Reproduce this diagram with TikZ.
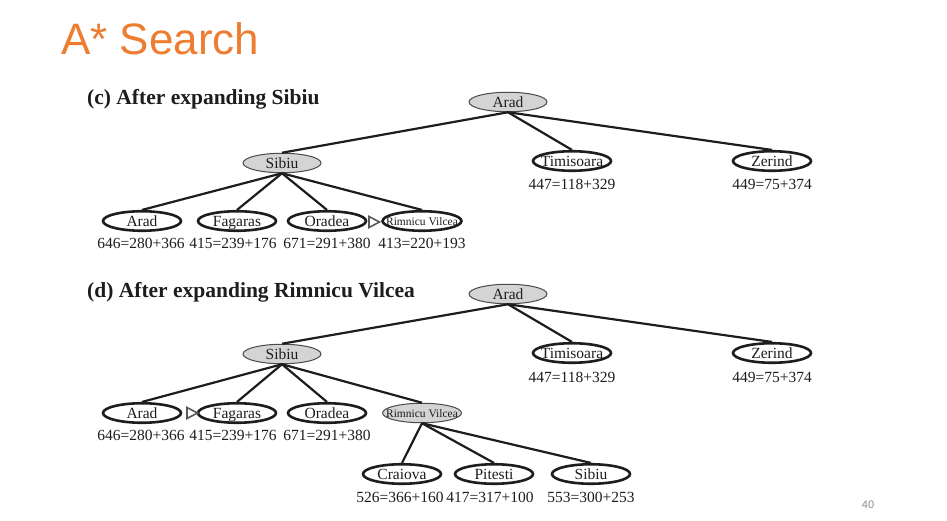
\documentclass[tikz,border=0pt]{standalone}
\usepackage{fontspec}
\setmainfont{Liberation Serif}
\newfontfamily\titlefont{Liberation Sans}
\usetikzlibrary{shapes.geometric}
\definecolor{ttl}{RGB}{237,125,49}
\definecolor{gfill}{RGB}{212,212,212}
\definecolor{ink}{RGB}{30,28,30}
\tikzset{
  nd/.style={ellipse, minimum width=78pt, minimum height=19.5pt, inner xsep=-5pt, inner ysep=-2pt, text height=11pt, text depth=0pt, text=ink, font=\fontsize{15.5}{16}\selectfont},
  open/.style={nd, draw=ink, line width=2.6pt, fill=white},
  done/.style={nd, draw=ink!80, line width=1pt, fill=gfill},
  small/.style={font=\fontsize{11.5}{12}\selectfont, inner xsep=-8pt, text height=8.6pt},
  lbl/.style={text=ink, font=\fontsize{15.5}{16}\selectfont, inner sep=0pt},
  edge/.style={draw=ink, line width=2.2pt},
  head/.style={anchor=base west, inner sep=0pt, text=ink, font=\bfseries\fontsize{21.5}{22}\selectfont},
  tri/.style={draw=black!65, line width=1.6pt, fill=white, line join=miter}
}
\begin{document}
\begin{tikzpicture}[x=1pt,y=-1pt]
\useasboundingbox (0,0) rectangle (947,521);
\node[anchor=base west, inner sep=0pt, text=ttl, font=\titlefont\fontsize{44}{45}\selectfont] (title) at (61,55) {A* Search};
\node[anchor=center, inner sep=0pt, text=black!45, font=\titlefont\fontsize{11}{12}\selectfont] (pg) at (868,505) {40};

% ---------- panel (c)
\node[head] (hc) at (87,105) {(c) After expanding Sibiu};
\node[done] (cA) at (508,102) {Arad};
\node[done] (cS) at (282,163) {Sibiu};
\node[open] (cT) at (572,161) {Timisoara};
\node[open] (cZ) at (772,161) {Zerind};
\node[open] (cA2) at (142,221) {Arad};
\node[open] (cF) at (237,221) {Fagaras};
\node[open] (cO) at (327,221) {Oradea};
\node[open, small] (cR) at (422,221) {Rimnicu Vilcea};
\draw[edge] (cA.south) -- (cS.north);
\draw[edge] (cA.south) -- (cT.north);
\draw[edge] (cA.south) -- (cZ.north);
\draw[edge] (cS.south) -- (cA2.north);
\draw[edge] (cS.south) -- (cF.north);
\draw[edge] (cS.south) -- (cO.north);
\draw[edge] (cS.south) -- (cR.north);
\node[lbl] (lcT) at (572,184) {447=118+329};
\node[lbl] (lcZ) at (772,184) {449=75+374};
\node[lbl] (lcA2) at (141,243) {646=280+366};
\node[lbl] (lcF) at (233,243) {415=239+176};
\node[lbl] (lcO) at (327,243) {671=291+380};
\node[lbl] (lcR) at (422,243) {413=220+193};
\draw[tri] (369,216.5) -- (379.5,222) -- (369,227.5) -- cycle;

% ---------- panel (d)
\node[head] (hd) at (87,297) {(d) After expanding Rimnicu Vilcea};
\node[done] (dA) at (508,294) {Arad};
\node[done] (dS) at (282,354) {Sibiu};
\node[open] (dT) at (572,353) {Timisoara};
\node[open] (dZ) at (772,353) {Zerind};
\node[open] (dA2) at (142,413) {Arad};
\node[open] (dF) at (237,413) {Fagaras};
\node[open] (dO) at (327,413) {Oradea};
\node[done, small] (dR) at (422,413) {Rimnicu Vilcea};
\node[open] (dC) at (402,474) {Craiova};
\node[open] (dP) at (494,474) {Pitesti};
\node[open] (dS2) at (591,474) {Sibiu};
\draw[edge] (dA.south) -- (dS.north);
\draw[edge] (dA.south) -- (dT.north);
\draw[edge] (dA.south) -- (dZ.north);
\draw[edge] (dS.south) -- (dA2.north);
\draw[edge] (dS.south) -- (dF.north);
\draw[edge] (dS.south) -- (dO.north);
\draw[edge] (dS.south) -- (dR.north);
\draw[edge] (dR.south) -- (dC.north);
\draw[edge] (dR.south) -- (dP.north);
\draw[edge] (dR.south) -- (dS2.north);
\node[lbl] (ldT) at (572,377) {447=118+329};
\node[lbl] (ldZ) at (772,377) {449=75+374};
\node[lbl] (ldA2) at (141,435) {646=280+366};
\node[lbl] (ldF) at (233,435) {415=239+176};
\node[lbl] (ldO) at (327,435) {671=291+380};
\node[lbl] (ldC) at (400,497) {526=366+160};
\node[lbl] (ldP) at (490,497) {417=317+100};
\node[lbl] (ldS2) at (591,497) {553=300+253};
\draw[tri] (187,407.5) -- (197.5,413) -- (187,418.5) -- cycle;
\end{tikzpicture}
\end{document}
